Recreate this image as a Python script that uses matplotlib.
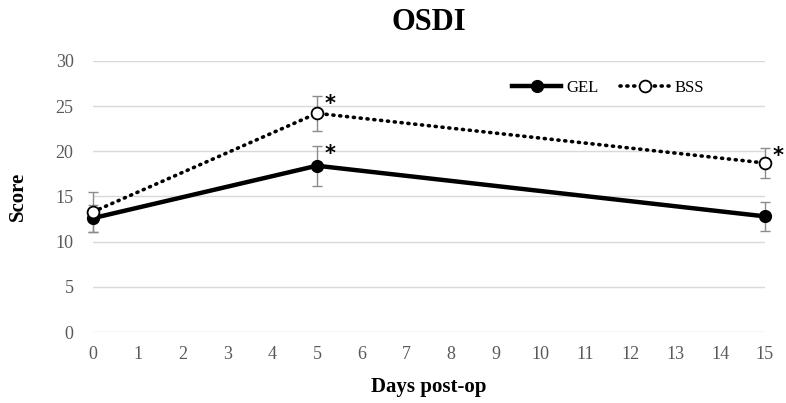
import matplotlib
matplotlib.use('Agg')
import matplotlib.pyplot as plt
import numpy as np

# ─── Data ───────────────────────────────────────────
days = [0, 5, 15]
gel = [12.6, 18.4, 12.8]
gel_err = [1.5, 2.2, 1.6]
bss = [13.3, 24.2, 18.7]
bss_err = [2.2, 1.95, 1.7]
# days with a significance asterisk
sig_gel = [5]
sig_bss = [5, 15]

plt.rcParams.update({
    'font.family': ['Liberation Serif', 'DejaVu Serif'],
    'font.size': 11,
})

fig = plt.figure(figsize=(7.86, 4.03), dpi=100)
ax = fig.add_axes([0.1183, 0.176, 0.973 - 0.1183, 0.849 - 0.176])

for vals, errs in [(gel, gel_err), (bss, bss_err)]:
    eb = ax.errorbar(days, vals, yerr=errs, fmt='none', ecolor='#8c8c8c',
                     elinewidth=1, capsize=3.5, capthick=1, zorder=2)
    for art in eb.lines[1] + eb.lines[2]:
        art.set_clip_on(False)

ax.plot(days, gel, color='black', lw=3.2, marker='o', markersize=8.5,
        markerfacecolor='black', label='GEL', zorder=3, clip_on=False)
ax.plot(days, bss, color='black', lw=2.6, linestyle=(0, (0.3, 1.6)),
        dash_capstyle='round', marker='o', markersize=8.5,
        markerfacecolor='white', markeredgewidth=1.3, label='BSS',
        zorder=4, clip_on=False)

# asterisks
for d in sig_gel:
    i = days.index(d)
    ax.text(d + 0.17, gel[i] + gel_err[i] - 0.9, '*', fontsize=15,
            fontweight='bold', family='DejaVu Sans', ha='left', va='center')
for d in sig_bss:
    i = days.index(d)
    ax.text(d + 0.17, bss[i] + bss_err[i] - 0.9, '*', fontsize=15,
            fontweight='bold', family='DejaVu Sans', ha='left', va='center')

ax.set_xlim(0, 15)
ax.set_ylim(0, 30)
ax.set_xticks(range(0, 16))
ax.set_yticks(range(0, 31, 5))
ax.yaxis.grid(True, color='#d9d9d9', lw=1)
ax.set_axisbelow(True)
for s in ax.spines.values():
    s.set_visible(False)
ax.tick_params(axis='both', length=0, colors='#595959', labelsize=13)
ax.tick_params(axis='y', pad=14)
ax.tick_params(axis='x', pad=10)

ax.set_xlabel('Days post-op', fontsize=15, fontweight='bold', labelpad=10)
ax.set_ylabel('Score', fontsize=15, fontweight='bold', labelpad=20)
ax.set_title('OSDI', fontsize=22, fontweight='bold', pad=22)

leg = ax.legend(loc='upper right', bbox_to_anchor=(0.932, 0.985), ncol=2,
                frameon=False, fontsize=12, handlelength=2.9,
                columnspacing=1.3, handletextpad=0.35)

fig.savefig('out.png', dpi=100)
